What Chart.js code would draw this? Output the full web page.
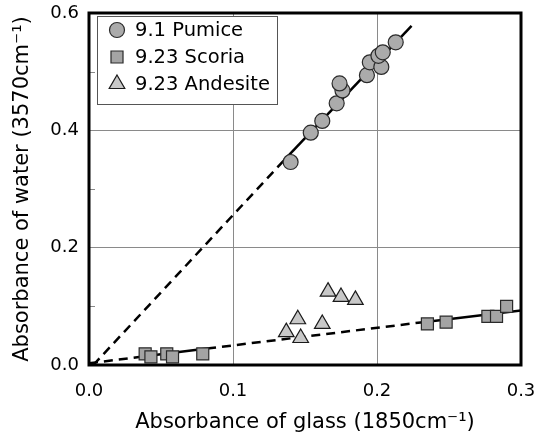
<!DOCTYPE html>
<html>
<head>
<meta charset="utf-8">
<script src="https://cdn.jsdelivr.net/npm/chart.js@4.4.0/dist/chart.umd.min.js"></script>
<style>
  html, body { margin: 0; padding: 0; background: #fff; }
  #wrap { width: 547px; height: 437px; }
</style>
</head>
<body>
<div id="wrap"><canvas id="chart" width="547" height="437"></canvas></div>
<script>
// data
const pumiceX = [0.140, 0.154, 0.162, 0.172, 0.176, 0.174, 0.193, 0.195, 0.203, 0.201, 0.204, 0.213];
const pumiceY = [0.346, 0.396, 0.416, 0.446, 0.468, 0.480, 0.494, 0.516, 0.508, 0.527, 0.533, 0.550];
const scoriaX = [0.039, 0.043, 0.054, 0.058, 0.079, 0.235, 0.248, 0.277, 0.283, 0.290];
const scoriaY = [0.019, 0.014, 0.019, 0.014, 0.019, 0.070, 0.073, 0.083, 0.083, 0.100];
const andesiteX = [0.166, 0.175, 0.185, 0.145, 0.137, 0.162, 0.147];
const andesiteY = [0.125, 0.116, 0.111, 0.078, 0.056, 0.070, 0.046];

// fitted lines: solid where the data are, dashed elsewhere
const pumiceDashX = [0.003, 0.137];
const pumiceDashY = [0.0, 0.353];
const pumiceSolidX = [0.137, 0.224];
const pumiceSolidY = [0.353, 0.578];
const scoriaDashX = [0.0, 0.036, 0.082, 0.232];
const scoriaDashY = [0.003, 0.014, 0.028, 0.073];
const scoriaSolidX = [0.036, 0.082, 0.232, 0.300];
const scoriaSolidY = [0.014, 0.028, 0.073, 0.093];

const xTicks = [0.0, 0.1, 0.2, 0.3];
const yTicks = [0.0, 0.2, 0.4, 0.6];
const yMinorTicks = [0.1, 0.3, 0.5];

const toPts = (xs, ys) => xs.map((x, i) => ({ x: x, y: ys[i] }));
// split a polyline into 2-point segments (for alternating dash/solid)
const segs = (xs, ys) => {
    const out = [];
    for (let i = 0; i < xs.length - 1; i += 2) {
        out.push([{ x: xs[i], y: ys[i] }, { x: xs[i + 1], y: ys[i + 1] }]);
    }
    return out;
};

const lineSet = (pts, dashed) => ({
    type: 'line',
    data: pts,
    borderColor: '#000',
    borderWidth: 2.5,
    borderDash: dashed ? [9, 6] : [],
    pointRadius: 0,
    fill: false,
    showLine: true,
    order: 5
});

const lineSets = [];
lineSets.push(lineSet(toPts(pumiceDashX, pumiceDashY), true));
lineSets.push(lineSet(toPts(pumiceSolidX, pumiceSolidY), false));
segs(scoriaDashX, scoriaDashY).forEach(s => lineSets.push(lineSet(s, true)));
segs(scoriaSolidX, scoriaSolidY).forEach(s => lineSets.push(lineSet(s, false)));

const markerSets = [
    {
        label: '9.1 Pumice',
        data: toPts(pumiceX, pumiceY),
        pointStyle: 'circle',
        pointRadius: 7.5,
        backgroundColor: '#ababab',
        borderColor: '#2a2a2a',
        borderWidth: 1.2,
        order: 1
    },
    {
        label: '9.23 Scoria',
        data: toPts(scoriaX, scoriaY),
        pointStyle: 'rect',
        pointRadius: 8.5,
        backgroundColor: '#a4a4a4',
        borderColor: '#2a2a2a',
        borderWidth: 1.2,
        order: 1
    },
    {
        label: '9.23 Andesite',
        data: toPts(andesiteX, andesiteY),
        pointStyle: 'triangle',
        pointRadius: 9,
        backgroundColor: '#c8c8c8',
        borderColor: '#1a1a1a',
        borderWidth: 1.2,
        order: 1
    }
];

const font = "'DejaVu Sans', Verdana, sans-serif";

// frame, minor ticks and the legend box
const framePlugin = {
    id: 'frame',
    afterDatasetsDraw(chart) {
        const ctx = chart.ctx;
        const a = chart.chartArea;
        const ys = chart.scales.y;
        ctx.save();
        ctx.strokeStyle = '#888';
        ctx.lineWidth = 1;
        yMinorTicks.forEach(v => {
            const py = Math.round(ys.getPixelForValue(v)) + 0.5;
            ctx.beginPath();
            ctx.moveTo(a.left, py);
            ctx.lineTo(a.left + 6, py);
            ctx.stroke();
        });
        ctx.strokeStyle = '#000';
        ctx.lineWidth = 3;
        ctx.strokeRect(a.left, a.top, a.right - a.left, a.bottom - a.top);

        // legend
        const bx = 97, by = 16, bw = 180, bh = 88;
        ctx.fillStyle = '#fff';
        ctx.fillRect(bx, by, bw, bh);
        ctx.strokeStyle = '#555';
        ctx.lineWidth = 1;
        ctx.strokeRect(bx + 0.5, by + 0.5, bw, bh);
        ctx.font = '19.5px ' + font;
        ctx.textBaseline = 'middle';
        markerSets.forEach((ds, i) => {
            const cy = by + 14 + i * 27;
            ctx.fillStyle = ds.backgroundColor;
            ctx.strokeStyle = ds.borderColor;
            ctx.lineWidth = ds.borderWidth;
            Chart.helpers.drawPoint(ctx, {
                pointStyle: ds.pointStyle,
                radius: ds.pointRadius,
                rotation: 0,
                borderWidth: ds.borderWidth
            }, bx + 20, cy);
            ctx.fillStyle = '#000';
            ctx.fillText(ds.label, bx + 38, cy + 1);
        });
        ctx.restore();
    }
};

new Chart(document.getElementById('chart').getContext('2d'), {
    type: 'scatter',
    data: { datasets: lineSets.concat(markerSets) },
    options: {
        responsive: false,
        animation: false,
        layout: { padding: { left: 0, top: 13, right: 26, bottom: 0 } },
        plugins: {
            legend: { display: false },
            tooltip: { enabled: false }
        },
        scales: {
            x: {
                type: 'linear',
                min: 0, max: 0.3,
                afterFit: (s) => { s.height = 72; s.paddingLeft = 0; s.paddingRight = 0; },
                afterBuildTicks: (s) => { s.ticks = xTicks.map(v => ({ value: v })); },
                ticks: {
                    color: '#000',
                    font: { family: font, size: 18 },
                    padding: 16,
                    callback: (v) => v.toFixed(1)
                },
                grid: {
                    color: (c) => (c.tick && c.tick.value > 0 && c.tick.value < 0.3) ? '#8a8a8a' : 'rgba(0,0,0,0)',
                    lineWidth: 1,
                    drawTicks: false
                },
                border: { display: false },
                title: {
                    display: true,
                    text: 'Absorbance of glass (1850cm⁻¹)',
                    color: '#000',
                    font: { family: font, size: 21 },
                    padding: { top: 4, bottom: 2 }
                }
            },
            y: {
                type: 'linear',
                min: 0, max: 0.6,
                afterFit: (s) => { s.width = 89; s.paddingTop = 0; s.paddingBottom = 0; },
                afterBuildTicks: (s) => { s.ticks = yTicks.map(v => ({ value: v })); },
                ticks: {
                    color: '#000',
                    font: { family: font, size: 18 },
                    padding: 10,
                    callback: (v) => v.toFixed(1)
                },
                grid: {
                    color: (c) => (c.tick && c.tick.value > 0 && c.tick.value < 0.6) ? '#8a8a8a' : 'rgba(0,0,0,0)',
                    lineWidth: 1,
                    drawTicks: false
                },
                border: { display: false },
                title: {
                    display: true,
                    text: 'Absorbance of water (3570cm⁻¹)',
                    color: '#000',
                    font: { family: font, size: 21 },
                    padding: { top: 10, bottom: 0 }
                }
            }
        }
    },
    plugins: [framePlugin]
});
</script>
</body>
</html>
